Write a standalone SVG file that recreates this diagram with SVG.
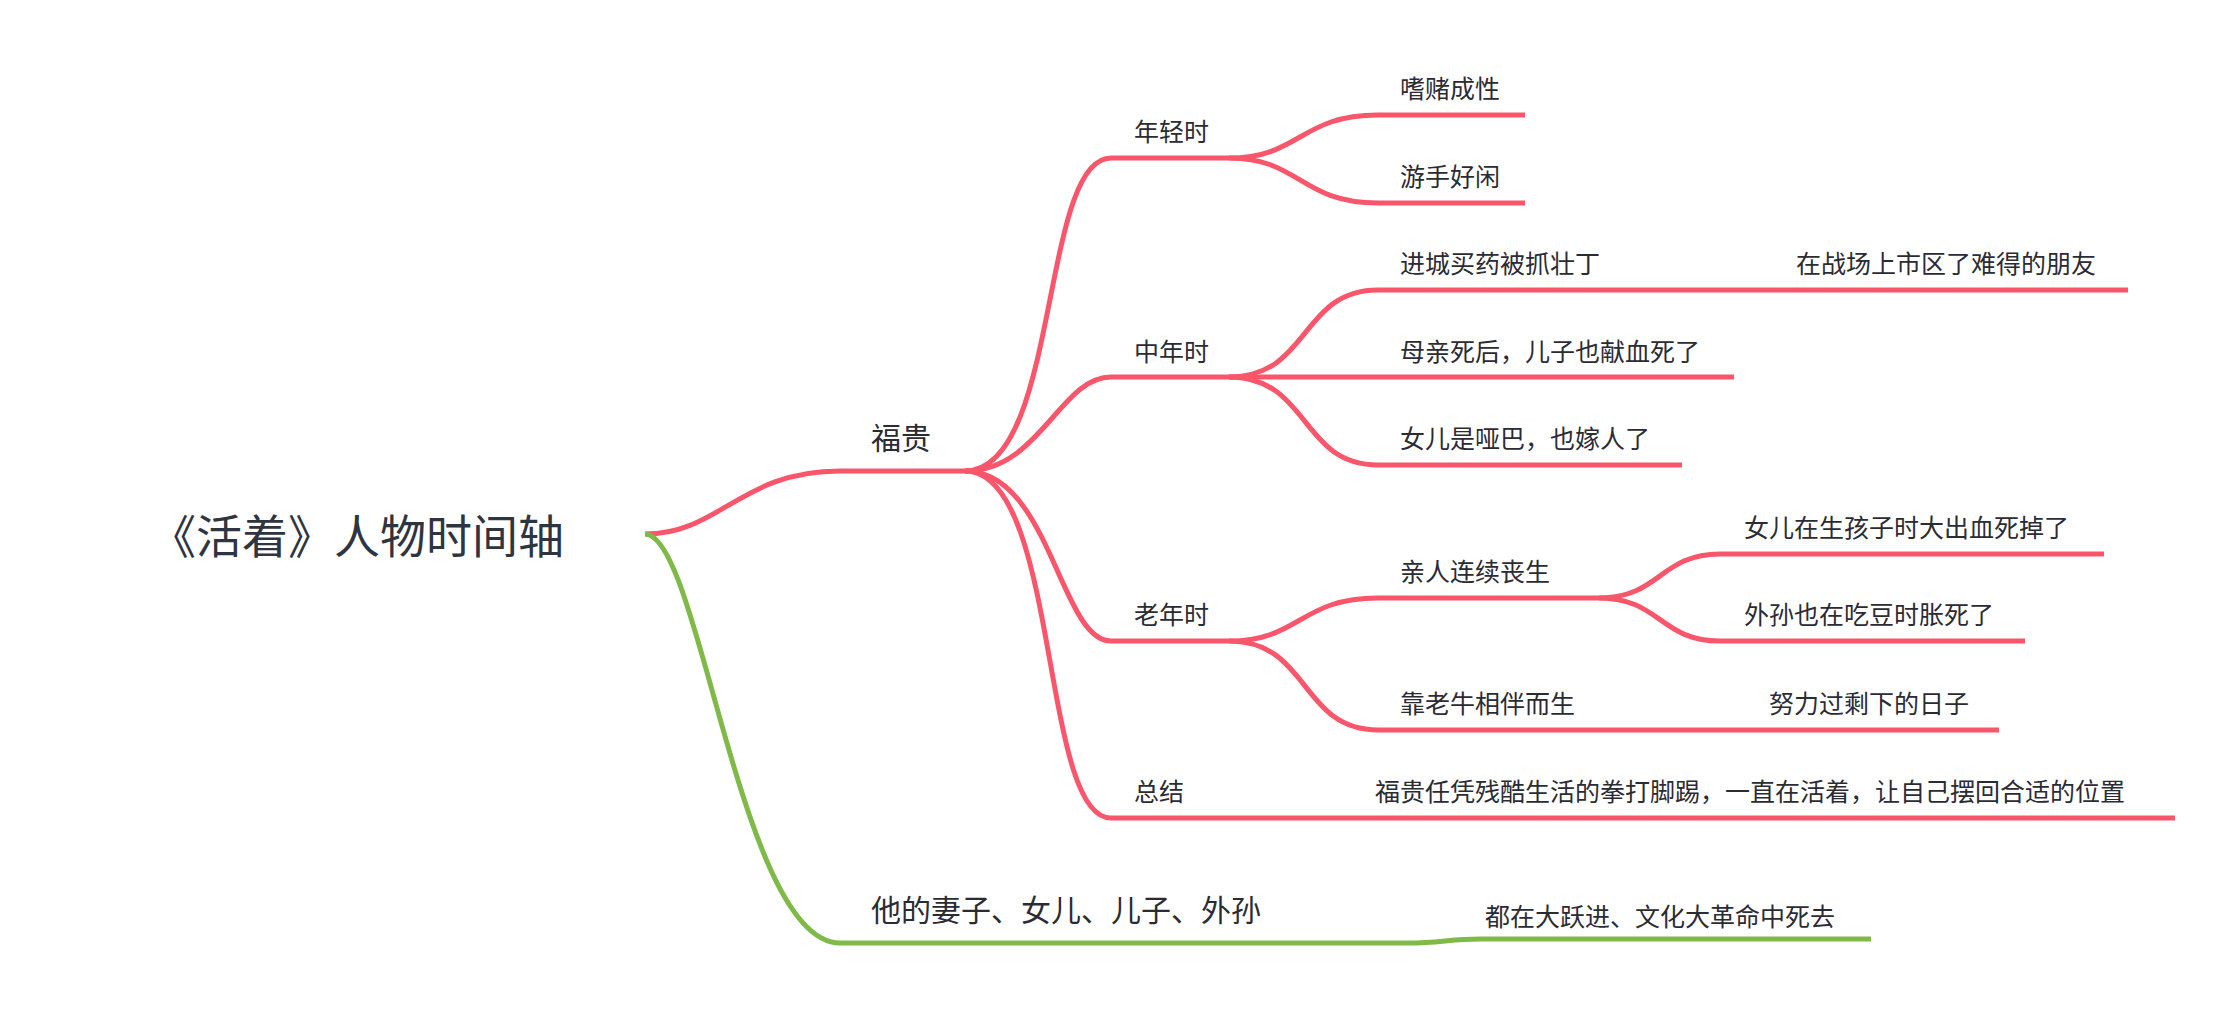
<svg xmlns="http://www.w3.org/2000/svg" width="2231" height="1010" viewBox="0 0 2231 1010">
<style>
.r{fill:none;stroke:#F9566B;stroke-width:5;stroke-linecap:butt}
.g{fill:none;stroke:#7FBA48;stroke-width:5}
text{font-family:"Noto Sans CJK SC","Noto Sans",sans-serif;fill:#2b2b33}
.t{font-size:25px}
.m{font-size:30px}
.root{font-size:46px;fill:#2f3540}
</style>
<rect width="2231" height="1010" fill="#fff"/>
<g id="connectors">
<path class="r" d="M645 534 C720 534 740 471 840 471 L965 471"/>
<path class="g" d="M645 534 C700 534 740 943 840 943 L1408 943 C1440 943 1450 939 1480 939 L1871 939"/>
<path class="r" d="M965 471 C1060 471 1040 158 1111 158 L1229 158"/>
<path class="r" d="M965 471 C1040 471 1060 377 1111 377 L1229 377"/>
<path class="r" d="M965 471 C1050 471 1060 641 1111 641 L1229 641"/>
<path class="r" d="M965 471 C1060 471 1040 818 1111 818 L1222 818"/>
<path class="r" d="M1229 158 C1300 158 1300 115 1378 115 L1525 115"/>
<path class="r" d="M1229 158 C1300 158 1300 203 1378 203 L1525 203"/>
<path class="r" d="M1229 377 C1310 377 1300 290 1378 290 L1627 290"/>
<path class="r" d="M1627 290 L2128 290"/>
<path class="r" d="M1229 377 L1734 377"/>
<path class="r" d="M1229 377 C1310 377 1300 465 1378 465 L1682 465"/>
<path class="r" d="M1229 641 C1300 641 1300 598 1378 598 L1599 598"/>
<path class="r" d="M1599 598 C1660 598 1660 554 1720 554 L2104 554"/>
<path class="r" d="M1599 598 C1660 598 1660 641 1720 641 L2025 641"/>
<path class="r" d="M1229 641 C1310 641 1300 730 1378 730 L1616 730"/>
<path class="r" d="M1616 730 L1999 730"/>
<path class="r" d="M1222 818 L2175 818"/>
</g>
<g id="root"><text class="root" x="150" y="553">《活着》人物时间轴</text></g>
<g id="fugui"><text class="m" x="871" y="449">福贵</text></g>
<g id="family"><text class="m" x="871" y="921">他的妻子、女儿、儿子、外孙</text></g>
<g id="family-1"><text class="t" x="1485" y="926">都在大跃进、文化大革命中死去</text></g>
<g id="young"><text class="t" x="1134" y="141">年轻时</text></g>
<g id="mid"><text class="t" x="1134" y="361">中年时</text></g>
<g id="old"><text class="t" x="1134" y="624">老年时</text></g>
<g id="sum"><text class="t" x="1134" y="801">总结</text></g>
<g id="y1"><text class="t" x="1400" y="98">嗜赌成性</text></g>
<g id="y2"><text class="t" x="1400" y="186">游手好闲</text></g>
<g id="m1"><text class="t" x="1400" y="273">进城买药被抓壮丁</text></g>
<g id="m1a"><text class="t" x="1796" y="273">在战场上市区了难得的朋友</text></g>
<g id="m2"><text class="t" x="1400" y="361">母亲死后，儿子也献血死了</text></g>
<g id="m3"><text class="t" x="1400" y="448">女儿是哑巴，也嫁人了</text></g>
<g id="o1"><text class="t" x="1400" y="581">亲人连续丧生</text></g>
<g id="o1a"><text class="t" x="1744" y="537">女儿在生孩子时大出血死掉了</text></g>
<g id="o1b"><text class="t" x="1744" y="624">外孙也在吃豆时胀死了</text></g>
<g id="o2"><text class="t" x="1400" y="713">靠老牛相伴而生</text></g>
<g id="o2a"><text class="t" x="1769" y="713">努力过剩下的日子</text></g>
<g id="s1"><text class="t" x="1375" y="801">福贵任凭残酷生活的拳打脚踢，一直在活着，让自己摆回合适的位置</text></g>
</svg>
